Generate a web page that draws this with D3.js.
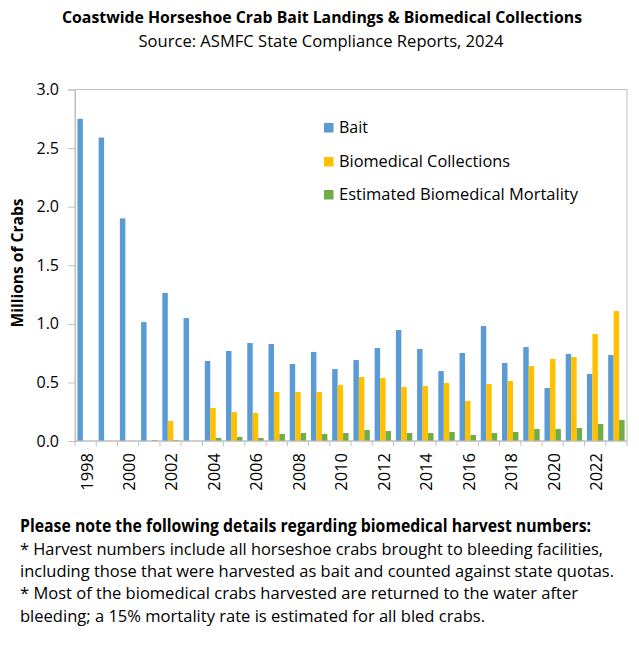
<!DOCTYPE html>
<html>
<head>
<meta charset="utf-8">
<script src="https://cdn.jsdelivr.net/npm/d3@7/dist/d3.min.js"></script>
<style>
  html, body { margin: 0; padding: 0; background: #fff; }
  svg { display: block; }
  text { font-family: 'Open Sans', 'Noto Sans', sans-serif; fill: #000; }
</style>
</head>
<body>
<svg id="chart" width="639" height="645"></svg>
<script>
const years = [1998,1999,2000,2001,2002,2003,2004,2005,2006,2007,2008,2009,2010,2011,2012,2013,2014,2015,2016,2017,2018,2019,2020,2021,2022,2023];
const bait = [2.75,2.59,1.90,1.015,1.263,1.049,0.683,0.768,0.836,0.828,0.657,0.760,0.614,0.691,0.794,0.947,0.785,0.597,0.751,0.981,0.666,0.802,0.452,0.743,0.572,0.734];
const biomedical = [null,null,null,null,0.171,null,0.282,0.247,0.239,0.418,0.418,0.418,0.478,0.546,0.537,0.461,0.469,0.495,0.341,0.486,0.512,0.640,0.700,0.717,0.913,1.109];
const mortality = [null,null,null,0.008,0.008,null,0.026,0.034,0.026,0.060,0.068,0.060,0.068,0.094,0.085,0.068,0.068,0.077,0.051,0.068,0.077,0.102,0.102,0.111,0.145,0.179];
const seriesNames = ["Bait","Biomedical Collections","Estimated Biomedical Mortality"];
const seriesColors = ["#5b9bd5","#ffc000","#70ad47"];
const yTicks = [0,0.5,1.0,1.5,2.0,2.5,3.0];
const xLabelYears = years.filter((d,i) => i % 2 === 0);
const titleText = "Coastwide Horseshoe Crab Bait Landings & Biomedical Collections";
const subtitleText = "Source: ASMFC State Compliance Reports, 2024";
const yTitle = "Millions of Crabs";
const notes = [
  "Please note the following details regarding biomedical harvest numbers:",
  "* Harvest numbers include all horseshoe crabs brought to bleeding facilities,",
  "including those that were harvested as bait and counted against state quotas.",
  "* Most of the biomedical crabs harvested are returned to the water after",
  "bleeding; a 15% mortality rate is estimated for all bled crabs."
];

const svg = d3.select("#chart");
const L = 75, R = 627, T = 89.5, B = 441;
const grey = "#bfbfbf";

function fit(sel, w) {
  sel.each(function() {
    const n = this.getComputedTextLength();
    if (Math.abs(n - w) > 1) {
      d3.select(this).attr("textLength", w).attr("lengthAdjust", "spacingAndGlyphs");
    }
  });
}

// Titles
fit(svg.append("text").attr("x", 322).attr("y", 23).attr("text-anchor", "middle")
  .attr("font-size", 16).attr("font-weight", "bold").text(titleText), 520);
fit(svg.append("text").attr("x", 321).attr("y", 47).attr("text-anchor", "middle")
  .attr("font-size", 16).text(subtitleText), 365);

const x0 = d3.scaleBand().domain(years).range([L, R]).paddingInner(0).paddingOuter(0);
const step = x0.step();
const barW = step / (3 + 0.88);
const gap = step - 3 * barW;
const x1 = d3.scaleBand().domain(seriesNames).range([gap / 2, step - gap / 2]).padding(0);
const y = d3.scaleLinear().domain([0, 3]).range([B, T]);

// plot border
svg.append("rect").attr("x", L).attr("y", T).attr("width", R - L).attr("height", B - T)
  .attr("fill", "none").attr("stroke", grey).attr("stroke-width", 1);

// bars
const seriesData = [bait, biomedical, mortality];
seriesData.forEach((vals, si) => {
  svg.append("g").selectAll("rect")
    .data(years.map((yr, i) => ({yr, v: vals[i]})).filter(d => d.v != null))
    .join("rect")
    .attr("x", d => x0(d.yr) + x1(seriesNames[si]))
    .attr("width", x1.bandwidth())
    .attr("y", d => y(d.v))
    .attr("height", d => B - y(d.v))
    .attr("fill", seriesColors[si]);
});

// Y axis
const yAxis = svg.append("g").attr("transform", `translate(${L},0)`)
  .call(d3.axisLeft(y).tickValues(yTicks).tickFormat(d3.format(".1f")).tickSize(7).tickPadding(9));
yAxis.select(".domain").attr("stroke", grey);
yAxis.selectAll(".tick line").attr("stroke", grey);
yAxis.selectAll(".tick text").attr("font-size", 16).attr("font-family", "'Liberation Sans', Arial, sans-serif").attr("fill", "#000");

// X axis
svg.append("line").attr("x1", L).attr("x2", R).attr("y1", B).attr("y2", B).attr("stroke", grey);
const bounds = years.map(yr => x0(yr)).concat([R]);
svg.append("g").selectAll("line").data(bounds).join("line")
  .attr("x1", d => d).attr("x2", d => d).attr("y1", B).attr("y2", B + 5).attr("stroke", grey);
svg.append("g").selectAll("text").data(xLabelYears).join("text")
  .attr("transform", d => `translate(${x0(d) + step / 2 + 1},${453}) rotate(-90)`)
  .attr("text-anchor", "end").attr("dy", "0.36em")
  .attr("font-size", 16.5).attr("font-family", "'Liberation Sans', Arial, sans-serif")
  .text(d => d);

// Y title
fit(svg.append("text").attr("transform", "translate(23,263) rotate(-90)")
  .attr("text-anchor", "middle").attr("font-size", 16).attr("font-weight", "bold")
  .text(yTitle), 129);

// Legend
const legY = [133, 167, 200];
const legW = [28, 171, 239];
seriesNames.forEach((name, i) => {
  svg.append("rect").attr("x", 324).attr("y", legY[i] - 10).attr("width", 9.5).attr("height", 9.5)
    .attr("fill", seriesColors[i]);
  fit(svg.append("text").attr("x", 339).attr("y", legY[i]).attr("font-size", 16).text(name), legW[i]);
});

// Notes
const noteY = [532, 555, 577, 599, 622];
const noteW = [571, 583, 594, 558, 465];
notes.forEach((t, i) => {
  fit(svg.append("text").attr("x", 20).attr("y", noteY[i]).attr("font-size", 17)
    .attr("font-weight", i === 0 ? "bold" : "normal").text(t), noteW[i]);
});
</script>
</body>
</html>
